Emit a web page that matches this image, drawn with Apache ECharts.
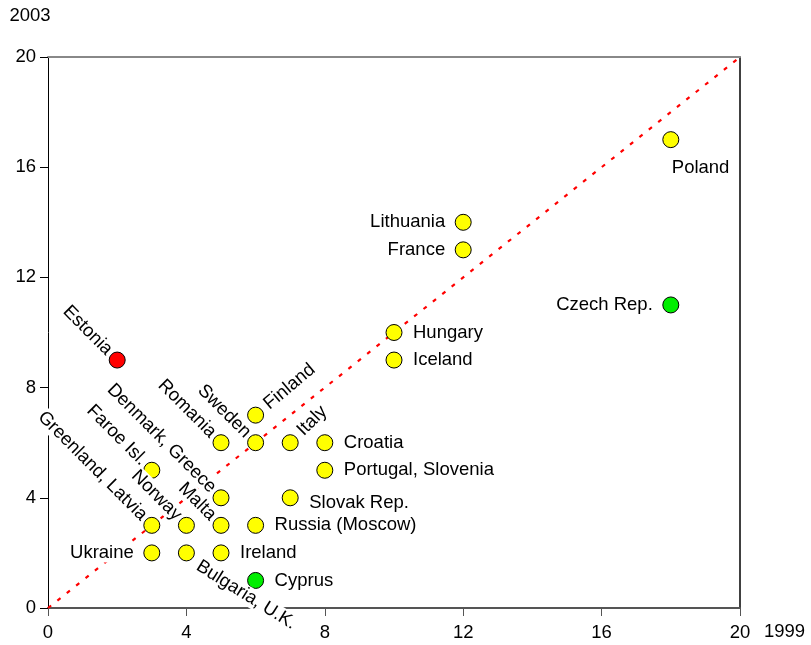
<!DOCTYPE html>
<html>
<head>
<meta charset="utf-8">
<script src="https://cdn.jsdelivr.net/npm/echarts@6/dist/echarts.min.js"></script>
<style>html,body{margin:0;padding:0;background:#fff}#c{width:811px;height:645px}</style>
</head>
<body>
<div id="c"></div>
<script>
// ---- data ----
const countries = ["Poland","Lithuania","France","Czech Rep.","Hungary","Iceland","Estonia","Finland","Romania","Sweden","Italy","Croatia","Portugal, Slovenia","Faroe Isl.","Denmark, Greece","Slovak Rep.","Greenland, Latvia","Norway","Malta","Russia (Moscow)","Ukraine","Bulgaria, U.K.","Ireland","Cyprus"];
const value1999 = [18,12,12,18,10,10,2,6,5,6,7,8,8,3,5,7,3,4,5,6,3,4,5,6];
const value2003 = [17,14,13,11,10,9,9,7,6,6,6,6,5,5,4,4,3,3,3,3,2,2,2,1];
const status = ["y","y","y","g","y","y","r","y","y","y","y","y","y","y","y","y","y","y","y","y","y","y","y","g"];
const axisTicks = [0,4,8,12,16,20];
const diagonal = [[0,0],[20,20]];
const xAxisTitle = "1999";
const yAxisTitle = "2003";

// ---- presentation ----
const statusColor = {y:"#FFFF00", g:"#00EE00", r:"#FF0000"};
const placement = {
  "Poland":"below","Lithuania":"left","France":"left","Czech Rep.":"left",
  "Hungary":"right","Iceland":"right","Estonia":"ul","Finland":"ur40","Romania":"ul",
  "Sweden":"ul","Italy":"ur","Croatia":"right","Portugal, Slovenia":"right",
  "Faroe Isl.":"ul","Denmark, Greece":"ul","Slovak Rep.":"rightlow","Greenland, Latvia":"ul",
  "Norway":"ul","Malta":"ul","Russia (Moscow)":"right","Ukraine":"left",
  "Bulgaria, U.K.":"lr","Ireland":"right","Cyprus":"right"
};
const FONT = "'Liberation Sans', Arial, Helvetica, sans-serif";
const FS = 18.5;
const TXT = '#000';
function labelFor(p){
  const base = {show:true, position:'inside', color:TXT, fontFamily:FONT, fontSize:FS, verticalAlign:'middle',
    textBorderWidth:0, textShadowBlur:0, backgroundColor:'#fff', padding:0};
  switch(p){
    case 'left': return Object.assign(base,{align:'right', offset:[-18,0]});
    case 'right': return Object.assign(base,{align:'left', offset:[19,0]});
    case 'rightlow': return Object.assign(base,{align:'left', offset:[19,5]});
    case 'below': return Object.assign(base,{align:'left', offset:[1,28]});
    case 'ul': return Object.assign(base,{align:'right', rotate:-45, offset:[-11,0]});
    case 'ur': return Object.assign(base,{align:'left', rotate:45, offset:[14,0]});
    case 'ur40': return Object.assign(base,{align:'left', rotate:40, offset:[14,0]});
    case 'lr': return Object.assign(base,{align:'left', rotate:-32, offset:[16,4]});
  }
}
const points = countries.map((n,i)=>({
  name:n, value:[value1999[i], value2003[i]],
  itemStyle:{color:statusColor[status[i]], borderColor:'#000', borderWidth:1, opacity:1},
  label: Object.assign(labelFor(placement[n]), {formatter:n})
}));

const chart = echarts.init(document.getElementById('c'), null, {renderer:'canvas'});
const axisLabel = {fontFamily:FONT, fontSize:FS, color:TXT};
chart.setOption({
  animation:false,
  backgroundColor:'#fff',
  title:[{
    text:xAxisTitle, left:764, top:622,
    textStyle:{fontFamily:FONT, fontSize:FS, color:TXT, fontWeight:'normal'}, padding:0
  }],
  grid:{left:48, right:71, top:57, bottom:37, containLabel:false},
  xAxis:[{
    type:'value', min:0, max:20, interval:4, position:'bottom',
    axisLine:{show:true, onZero:false, lineStyle:{color:'#555', width:2}},
    axisTick:{show:true, inside:false, length:8, lineStyle:{color:'#555', width:1}},
    axisLabel:Object.assign({margin:15, formatter:v=>axisTicks.includes(v)?String(v):''}, axisLabel),
    splitLine:{show:false}
  },{
    type:'value', min:0, max:20, position:'top',
    axisLine:{show:true, onZero:false, lineStyle:{color:'#888', width:2}},
    axisTick:{show:false}, axisLabel:{show:false}, splitLine:{show:false}
  }],
  yAxis:[{
    type:'value', min:0, max:20, interval:4, position:'left',
    axisLine:{show:true, onZero:false, lineStyle:{color:'#000', width:1}},
    axisTick:{show:true, inside:false, length:8, lineStyle:{color:'#000', width:1}},
    axisLabel:Object.assign({margin:12, formatter:v=>axisTicks.includes(v)?String(v):''}, axisLabel),
    splitLine:{show:false},
    name:yAxisTitle, nameLocation:'end', nameGap:32,
    nameTextStyle:{fontFamily:FONT, fontSize:FS, color:TXT, align:'center', verticalAlign:'bottom', padding:[0,36,0,0]}
  },{
    type:'value', min:0, max:20, position:'right',
    axisLine:{show:true, onZero:false, lineStyle:{color:'#000', width:1.5}},
    axisTick:{show:false}, axisLabel:{show:false}, splitLine:{show:false}
  }],
  series:[{
    type:'line', data:diagonal, symbol:'none', silent:true, z:1,
    lineStyle:{color:'#FF0000', width:2.2, type:[4,8]}
  },{
    type:'scatter', data:points, symbol:'circle', symbolSize:16, z:3
  }]
});
</script>
</body>
</html>
